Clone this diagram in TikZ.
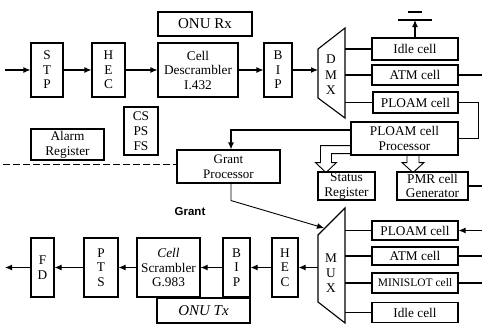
\documentclass[tikz,border=0pt]{standalone}
\usepackage{fontspec}
\setmainfont{Liberation Serif}
\setsansfont{Liberation Sans}
\usetikzlibrary{arrows.meta,calc}

\tikzset{
  blk/.style={draw, align=center, inner sep=0pt, font=\fontsize{13.3}{14.5}\selectfont},
  arr/.style={-{Latex[length=7pt,width=6pt]}},
  hollow/.style={line width=0.9pt},
  sep/.style={line width=0.8pt, dash pattern=on 7pt off 3pt}
}

\begin{document}
\begin{tikzpicture}[x=1pt,y=-1pt,line width=1.1pt]
  \useasboundingbox (0,0) rectangle (482,324);

  % receive side
  \node[blk, minimum width=94pt, minimum height=24pt, font=\fontsize{15}{16}\selectfont] (onurx) at (205,24) {ONU Rx};
  \node[blk, minimum width=32pt, minimum height=54pt] (stp) at (47,70) {S\\T\\P};
  \node[blk, minimum width=33pt, minimum height=54pt] (hecrx) at (108.5,70) {H\\E\\C};
  \node[blk, minimum width=80pt, minimum height=54pt] (descr) at (198,70) {Cell\\Descrambler\\I.432};
  \node[blk, minimum width=28pt, minimum height=54pt] (biprx) at (278,70) {B\\I\\P};

  \draw (318,49) -- (345,28) -- (345,118) -- (318,98) -- cycle;
  \node[align=center, font=\fontsize{13.3}{15.5}\selectfont] (dmx) at (331,75) {D\\M\\X};
  \coordinate (dmxin) at (318,70);
  \coordinate (dmxout) at (345,70);

  \node[blk, minimum width=86pt, minimum height=22pt] (idlerx) at (415,49) {Idle cell};
  \node[blk, minimum width=86pt, minimum height=20pt] (atmrx) at (415,75) {ATM cell};
  \node[blk, minimum width=85pt, minimum height=21pt] (ploamrx) at (415.5,102.5) {PLOAM cell};
  \node[blk, minimum width=107pt, minimum height=33pt, font=\fontsize{13.3}{15.5}\selectfont] (proc) at (404.5,138.5) {PLOAM cell\\Processor};
  \node[blk, minimum width=57pt, minimum height=28pt] (status) at (346.5,186) {Status\\Register};
  \node[blk, minimum width=71pt, minimum height=28pt] (pmr) at (432.5,186) {PMR cell\\Generator};

  \node[blk, minimum width=73pt, minimum height=31pt, font=\fontsize{13.3}{15}\selectfont] (alarm) at (67.5,144.5) {Alarm\\Register};
  \node[blk, minimum width=34pt, minimum height=48pt, font=\fontsize{13.3}{15}\selectfont] (csps) at (141,131) {CS\\PS\\FS};
  \node[blk, minimum width=103pt, minimum height=33pt, font=\fontsize{13}{15}\selectfont] (grant) at (228.5,166.5) {Grant\\Processor};
  \node[font=\sffamily\bfseries\fontsize{11.5}{12}\selectfont] (grantlbl) at (190,212) {Grant};

  \coordinate (inrx) at (5,70);
  \draw[arr] (inrx) -- (stp);
  \draw[arr] (stp) -- (hecrx);
  \draw[arr] (hecrx) -- (descr);
  \draw[arr] (descr) -- (biprx);
  \draw[arr] (biprx) -- (dmxin);
  \draw (idlerx.west -| dmxout) -- (idlerx.west);
  \draw (atmrx.west -| dmxout) -- (atmrx.west);
  \draw (ploamrx.west -| dmxout) -- (ploamrx.west);

  \coordinate (gnd) at (415,20);
  \draw[arr] (idlerx.north) -- (gnd);
  \draw (gnd) ++(-17,0) -- ++(34,0);
  \draw (gnd) ++(-7,-8) -- ++(14,0);

  \coordinate (atmrxend) at (482,75);
  \draw (atmrx.east) -- (atmrxend);
  \draw (ploamrx.east) -- ++(20,0) |- (proc.east);

  \draw[arr] ([yshift=8.5pt]proc.west) -| ([xshift=2.5pt]grant.north);
  \draw[hollow] ([yshift=10pt]proc.south west) -- ++(-30,0) -- ++(0,17) -- ++(-5,0)
    -- ++(10.5,10) -- ++(10.5,-10) -- ++(-5,0) -- ++(0,-9) -- ++(19,0);
  \draw[hollow] ([xshift=2.5pt]proc.south) -- ++(0,7) -- ++(-5,0) -- ++(11,10)
    -- ++(11,-10) -- ++(-5,0) -- ++(0,-7);

  \coordinate (pmrend) at (482,186);
  \draw (pmr.east) -- (pmrend);

  \coordinate (sepleft) at (3,164);
  \draw[sep] (sepleft) -- (grant.west |- sepleft);

  % transmit side
  \node[blk, minimum width=23pt, minimum height=59pt] (fd) at (42.5,267.5) {F\\D};
  \node[blk, minimum width=34pt, minimum height=59pt] (pts) at (101,267.5) {P\\T\\S};
  \node[blk, minimum width=63pt, minimum height=59pt] (scr) at (168.5,267.5) {\textit{Cell}\\Scrambler\\G.983};
  \node[blk, minimum width=27pt, minimum height=59pt] (biptx) at (236.5,267.5) {B\\I\\P};
  \node[blk, minimum width=26pt, minimum height=59pt] (hectx) at (285,267.5) {H\\E\\C};
  \node[blk, minimum width=93pt, minimum height=25pt, font=\itshape\fontsize{15}{16}\selectfont] (onutx) at (203.5,310.5) {ONU Tx};

  \draw (318,235) -- (345,208) -- (345,323) -- (318,302) -- cycle;
  \node[align=center, font=\fontsize{13.3}{15}\selectfont] (mux) at (331,273) {M\\U\\X};
  \coordinate (muxout) at (318,267.5);
  \coordinate (muxin) at (345,267.5);

  \node[blk, minimum width=86pt, minimum height=19pt] (ploamtx) at (415,230.5) {PLOAM cell};
  \node[blk, minimum width=86pt, minimum height=18pt] (atmtx) at (415,256) {ATM cell};
  \node[blk, minimum width=86pt, minimum height=20pt, font=\fontsize{11.5}{12}\selectfont] (minitx) at (415,283) {MINISLOT cell};
  \node[blk, minimum width=86pt, minimum height=20pt] (idletx) at (415,312.5) {Idle cell};

  \draw (ploamtx.west -| muxin) -- (ploamtx.west);
  \draw (atmtx.west -| muxin) -- (atmtx.west);
  \draw (minitx.west -| muxin) -- (minitx.west);
  \draw (idletx.west -| muxin) -- (idletx.west);

  \coordinate (ploamtxin) at (482,230.5);
  \coordinate (atmtxend) at (482,256);
  \coordinate (minitxend) at (482,283);
  \draw[arr] (ploamtxin) -- (ploamtx.east);
  \draw (atmtx.east) -- (atmtxend);
  \draw (minitx.east) -- (minitxend);

  \draw[arr] (muxout) -- (hectx);
  \draw[arr] (hectx) -- (biptx);
  \draw[arr] (biptx) -- (scr);
  \draw[arr] (scr) -- (pts);
  \draw[arr] (pts) -- (fd);
  \coordinate (outtx) at (5,267.5);
  \draw[arr] (fd) -- (outtx);

  \coordinate (muxgrant) at (324,228);
  \draw[arr, line width=0.9pt] ([xshift=2.5pt]grant.south) -- ++(0,17) -- (muxgrant);
\end{tikzpicture}
\end{document}
